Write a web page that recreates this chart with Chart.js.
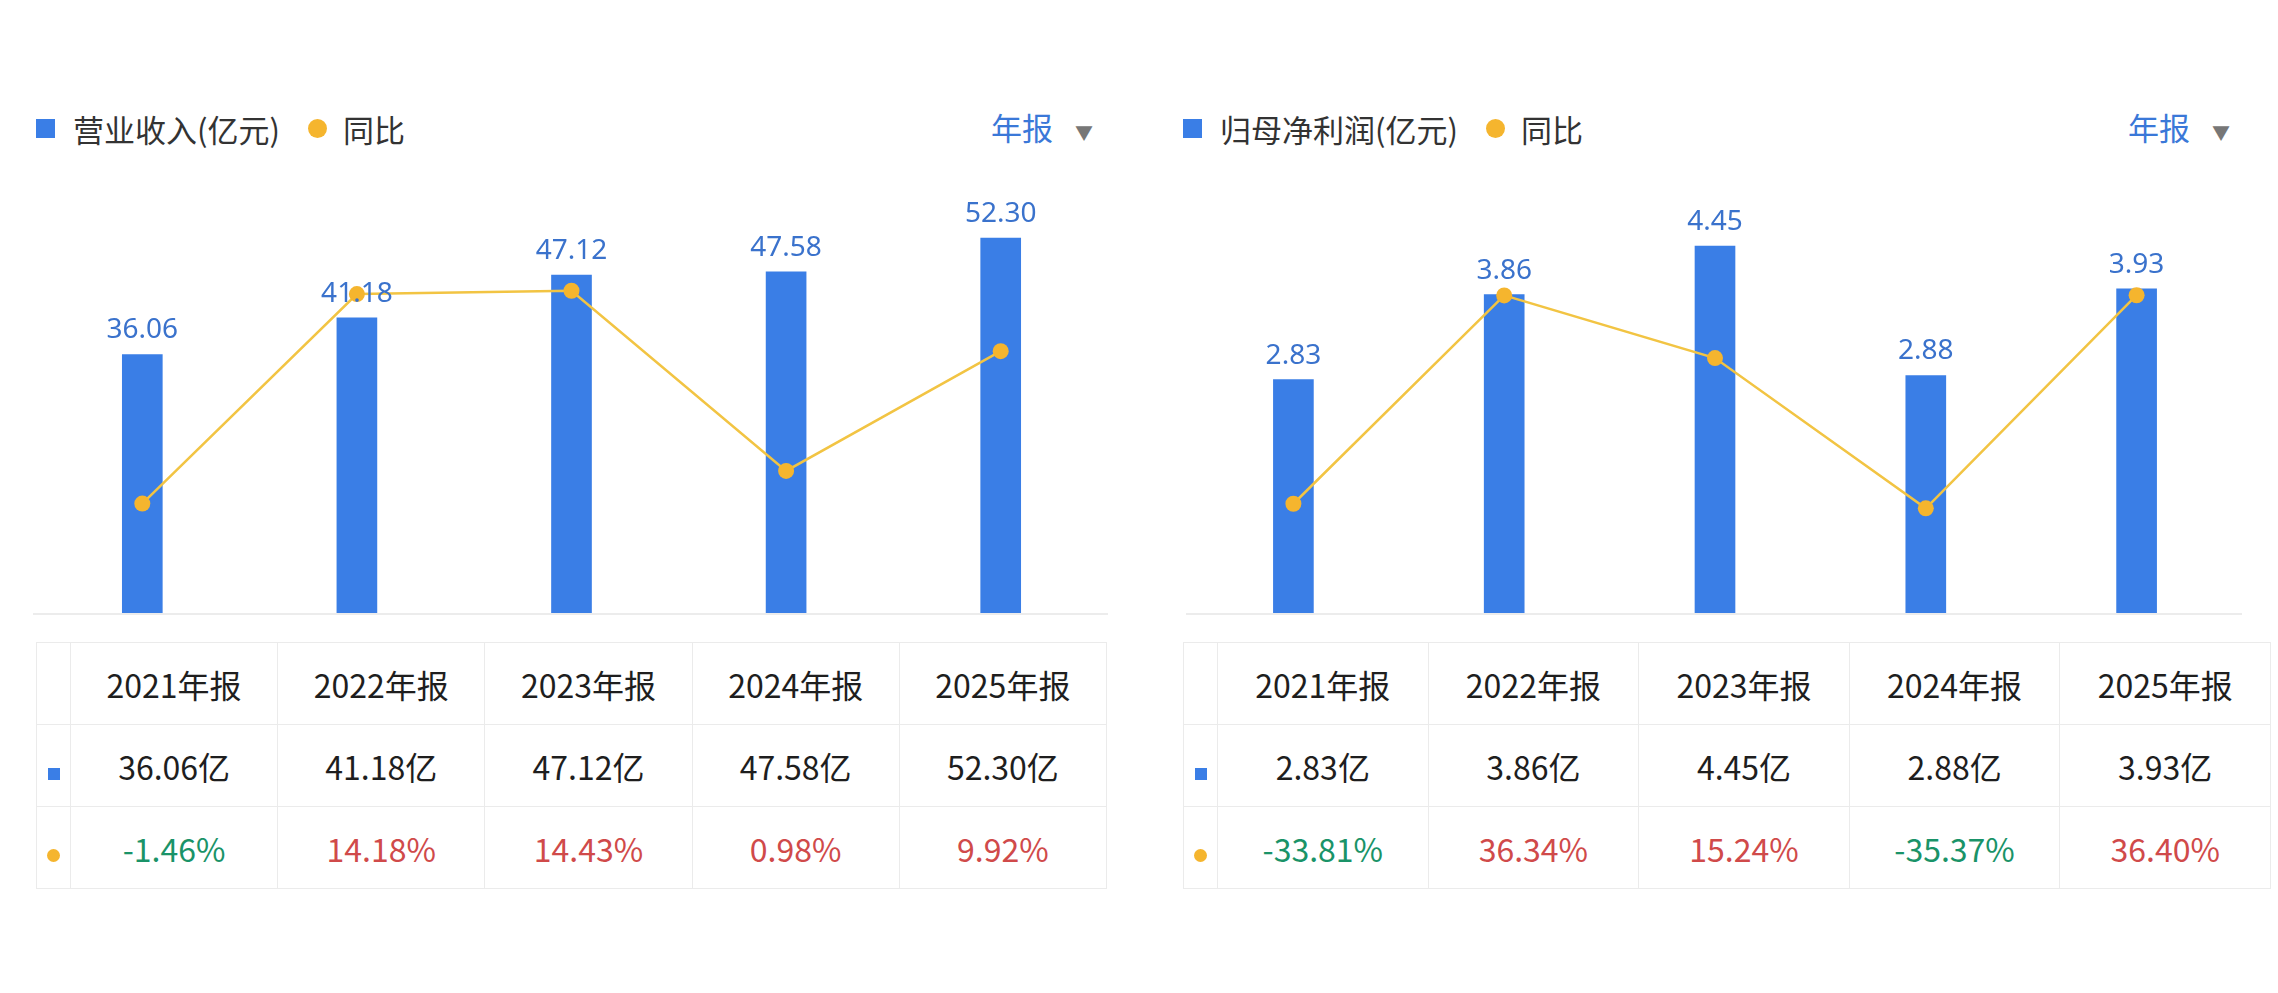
<!DOCTYPE html>
<html>
<head>
<meta charset="utf-8">
<script src="https://cdn.jsdelivr.net/npm/chart.js@4"></script>
<style>
body { margin:0; width:2278px; height:993px; background:#fff; font-family:"Noto Sans CJK SC","Noto Sans",sans-serif; position:relative; overflow:hidden; }
.panel { position:absolute; top:0; width:1139px; height:993px; }
.panel canvas { position:absolute; left:0; top:0; }
.legend { position:absolute; top:106px; font-size:31px; color:#333; display:flex; align-items:center; }
.sq { width:19px; height:19px; background:#3a7ee6; display:inline-block; margin-right:18px; }
.dot { width:19px; height:19px; border-radius:50%; background:#f5b52e; display:inline-block; margin:0 16px 0 28px; }
.period { position:absolute; top:104px; font-size:31px; color:#3a78d8; }
.period span { color:#777; font-size:18px; margin-left:22px; vertical-align:middle; }
table { position:absolute; top:642px; border-collapse:collapse; font-size:32px; color:#1e1e1e; }
td { border:1px solid #ebebeb; text-align:center; height:81px; padding:0; }
td.f { width:33px; }
.up { color:#d04a4a; } .dn { color:#1a9368; }
.ms { display:inline-block; width:12px; height:12px; background:#3a7ee6; }
.md { display:inline-block; width:13px; height:13px; border-radius:50%; background:#f5b52e; }
</style>
</head>
<body>
<div class="panel" id="p0" style="left:0"></div>
<div class="panel" id="p1" style="left:1180px"></div>
<script>
const categories = ['2021年报', '2022年报', '2023年报', '2024年报', '2025年报'];
const revenue = [36.06, 41.18, 47.12, 47.58, 52.30];
const revenueYoy = [-1.46, 14.18, 14.43, 0.98, 9.92];
const profit = [2.83, 3.86, 4.45, 2.88, 3.93];
const profitYoy = [-33.81, 36.34, 15.24, -35.37, 36.40];

const panels = [
  { id:'p0', name:'营业收入(亿元)', bars:revenue, yoy:revenueYoy, yMax:60.4, y2:[-9.63, 22.7], pad:{left:35, right:31}, legendX:36, periodX:991, tableX:36, tableW:1071 },
  { id:'p1', name:'归母净利润(亿元)', bars:profit, yoy:profitYoy, yMax:5.25, y2:[-70.6, 75.2], pad:{left:0, right:77}, legendX:3, periodX:948, tableX:3, tableW:1088 }
];

const valueLabels = {
  id:'valueLabels',
  afterDatasetsDraw(chart) {
    const ctx = chart.ctx;
    const meta = chart.getDatasetMeta(1);
    ctx.save();
    ctx.font = '28px "Noto Sans", sans-serif';
    ctx.fillStyle = '#3a72cc';
    ctx.textAlign = 'center';
    ctx.textBaseline = 'bottom';
    meta.data.forEach((bar, i) => {
      ctx.fillText(chart.data.datasets[1].data[i].toFixed(2), bar.x, bar.y - 10);
    });
    ctx.restore();
  },
  beforeDatasetsDraw(chart) {
    const ctx = chart.ctx, a = chart.chartArea;
    ctx.save();
    ctx.strokeStyle = '#ececec';
    ctx.lineWidth = 2;
    ctx.beginPath();
    ctx.moveTo(Math.max(a.left - 2, 3), a.bottom + 1);
    ctx.lineTo(a.right, a.bottom + 1);
    ctx.stroke();
    ctx.restore();
  }
};

panels.forEach(p => {
  const root = document.getElementById(p.id);
  root.innerHTML =
    '<div class="legend" style="left:' + p.legendX + 'px"><span class="sq"></span>' + p.name +
    '<span class="dot"></span>同比</div>' +
    '<div class="period" style="left:' + p.periodX + 'px">年报<span>▼</span></div>' +
    '<canvas width="1139" height="640"></canvas>';
  let html = '<table style="left:' + p.tableX + 'px;width:' + p.tableW + 'px"><tr><td class="f"></td>';
  categories.forEach(c => html += '<td>' + c + '</td>');
  html += '</tr><tr><td class="f"><span class="ms"></span></td>';
  p.bars.forEach(v => html += '<td>' + v.toFixed(2) + '亿</td>');
  html += '</tr><tr><td class="f"><span class="md"></span></td>';
  p.yoy.forEach(v => html += '<td class="' + (v < 0 ? 'dn' : 'up') + '">' + v.toFixed(2) + '%</td>');
  html += '</tr></table>';
  root.insertAdjacentHTML('beforeend', html);

  new Chart(root.querySelector('canvas').getContext('2d'), {
    data: {
      labels: categories,
      datasets: [
        { type:'line', data:p.yoy, yAxisID:'y2', borderColor:'#f2c443', borderWidth:2.5,
          pointRadius:8, pointBackgroundColor:'#f5b52e', pointBorderWidth:0, tension:0, clip:false },
        { type:'bar', data:p.bars, yAxisID:'y', backgroundColor:'#3a7ee6',
          barThickness:40 }
      ]
    },
    options: {
      responsive:false, animation:false,
      layout:{ padding:{ left:p.pad.left, right:p.pad.right, top:180, bottom:27 } },
      plugins:{ legend:{ display:false }, tooltip:{ enabled:false } },
      scales: {
        x:{ display:false },
        y:{ display:false, min:0, max:p.yMax },
        y2:{ display:false, min:p.y2[0], max:p.y2[1] }
      }
    },
    plugins:[valueLabels]
  });
});
</script>
</body>
</html>
